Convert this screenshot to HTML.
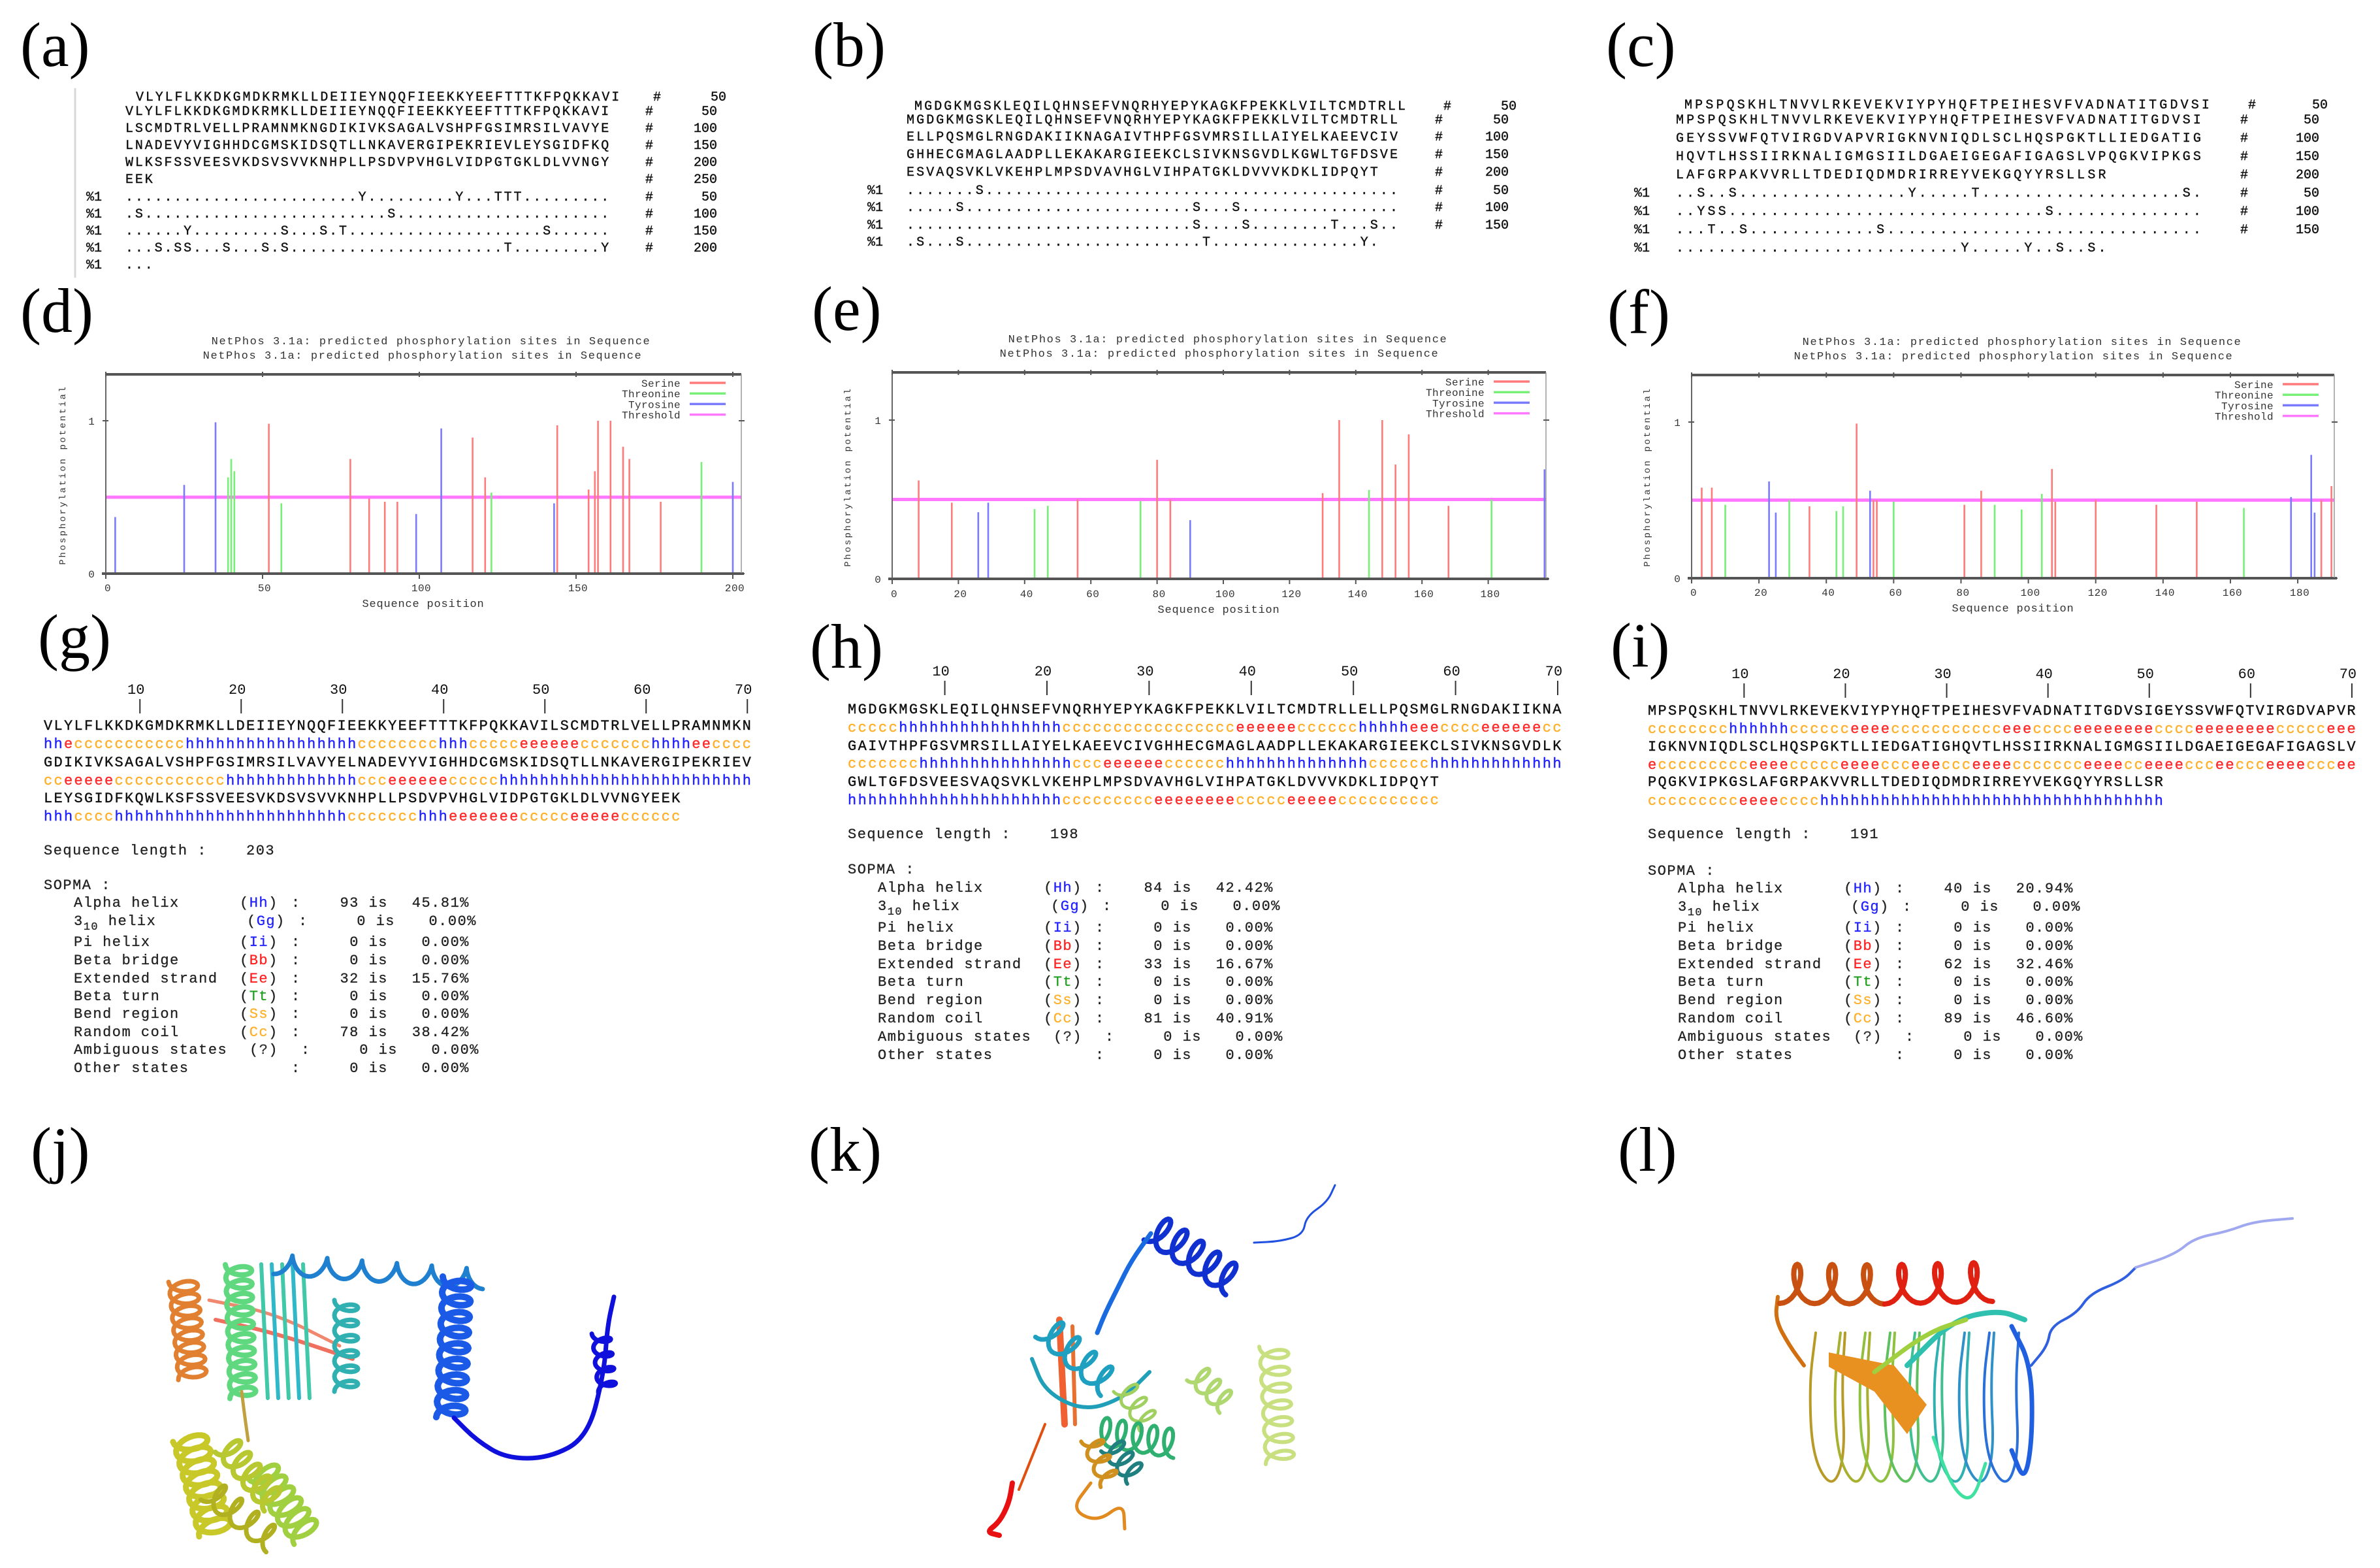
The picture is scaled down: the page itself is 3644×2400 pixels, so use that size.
<!DOCTYPE html>
<html><head><meta charset="utf-8"><title>Protein analysis figure</title>
<style>
html,body{margin:0;padding:0;background:#fff;}
svg{display:block;}
.lab{font-family:"Liberation Serif",serif;font-size:96px;fill:#000;}
.sa{font-family:"Liberation Mono",monospace;font-size:20px;fill:#111;stroke:#111;stroke-width:0.4;}
.sg{font-family:"Liberation Mono",monospace;font-size:22px;fill:#111;stroke-width:0.4;}
.cf{font-family:"Liberation Mono",monospace;font-size:16px;fill:#333;}
.ct{font-family:"Liberation Mono",monospace;font-size:17px;fill:#333;}
.sop{font-family:"Liberation Mono",monospace;font-size:22px;fill:#222;letter-spacing:1.5px;stroke:#222;stroke-width:0.3;}
</style></head>
<body>
<svg id="fig" xmlns="http://www.w3.org/2000/svg" width="3644" height="2400" viewBox="0 0 3644 2400">
<rect x="0" y="0" width="3644" height="2400" fill="#fff"/>
<text class="lab" x="31" y="101">(a)</text>
<text class="lab" x="1244" y="101">(b)</text>
<text class="lab" x="2459" y="101">(c)</text>
<text class="lab" x="31" y="508">(d)</text>
<text class="lab" x="1243" y="505">(e)</text>
<text class="lab" x="2461" y="510">(f)</text>
<text class="lab" x="58" y="1007">(g)</text>
<text class="lab" x="1240" y="1022">(h)</text>
<text class="lab" x="2466" y="1020">(i)</text>
<text class="lab" x="47" y="1792">(j)</text>
<text class="lab" x="1238" y="1792">(k)</text>
<text class="lab" x="2477" y="1792">(l)</text>
<line x1="115" y1="135" x2="115" y2="425" stroke="#d8d8d8" stroke-width="3"/>
<g id="gA"></g>
<g id="gB"></g>
<g id="gC"></g>
<g id="gD"></g>
<g id="gE"></g>
<g id="gF"></g>
<g id="gG"></g>
<g id="gH"></g>
<g id="gI"></g>
<g id="gJ"></g>
<g id="gK"></g>
<g id="gL"></g>
</svg>
<script>
// ---------- chart data (d) ----------
const dPos  = [3,25,35,39,40,41,52,56,78,84,89,93,99,107,117,121,123,143,144,154,156,157,161,165,167,177,190,200];
const dVal  = [0.37,0.58,0.99,0.63,0.75,0.67,0.98,0.46,0.75,0.49,0.47,0.47,0.39,0.95,0.89,0.63,0.53,0.46,0.97,0.55,0.67,1.0,1.0,0.83,0.75,0.47,0.73,0.60];
const dType = ['Y','Y','Y','T','T','T','S','T','S','S','S','S','Y','Y','S','S','T','Y','S','S','S','S','S','S','S','S','T','Y'];
const dTicks = [0,50,100,150,200];
// ---------- chart data (e) ----------
const ePos  = [8,18,26,29,43,47,56,75,80,84,90,130,135,144,148,152,156,168,181,197];
const eVal  = [0.62,0.48,0.42,0.48,0.44,0.46,0.50,0.49,0.75,0.50,0.37,0.54,1.0,0.56,1.0,0.72,0.91,0.46,0.50,0.69];
const eType = ['S','S','Y','Y','T','T','S','T','S','S','Y','S','S','T','S','S','S','S','T','Y'];
const eTicks = [0,20,40,60,80,100,120,140,160,180];
// ---------- chart data (f) ----------
const fPos  = [3,6,10,23,25,29,35,43,45,49,53,54,55,60,81,86,90,98,104,107,108,120,138,150,164,178,184,185,187,190];
const fVal  = [0.58,0.58,0.47,0.62,0.42,0.50,0.46,0.43,0.46,0.99,0.56,0.50,0.50,0.49,0.47,0.56,0.47,0.44,0.54,0.70,0.49,0.50,0.47,0.49,0.45,0.52,0.79,0.42,0.50,0.59];
const fType = ['S','S','T','Y','Y','T','S','T','T','S','Y','S','S','T','S','S','T','T','T','S','S','S','S','S','T','Y','Y','Y','S','S'];
const fTicks = [0,20,40,60,80,100,120,140,160,180];
// ---------- SOPMA data ----------
const sopNames = ['Alpha helix','helix','Pi helix','Beta bridge','Extended strand','Beta turn','Bend region','Random coil','Ambiguous states','Other states'];
const sopCodes = ['Hh','Gg','Ii','Bb','Ee','Tt','Ss','Cc','?',''];
const gCounts = [93,0,0,0,32,0,0,78,0,0];
const gPerc   = ['45.81%','0.00%','0.00%','0.00%','15.76%','0.00%','0.00%','38.42%','0.00%','0.00%'];
const hCounts = [84,0,0,0,33,0,0,81,0,0];
const hPerc   = ['42.42%','0.00%','0.00%','0.00%','16.67%','0.00%','0.00%','40.91%','0.00%','0.00%'];
const iCounts = [40,0,0,0,62,0,0,89,0,0];
const iPerc   = ['20.94%','0.00%','0.00%','0.00%','32.46%','0.00%','0.00%','46.60%','0.00%','0.00%'];

const NS='http://www.w3.org/2000/svg';
function mk(tag,parent,attrs){const e=document.createElementNS(NS,tag);for(const k in attrs)e.setAttribute(k,attrs[k]);parent.appendChild(e);return e;}
const R=(c,n)=>c.repeat(n);

const seqA=['VLYLFLKKDKGMDKRMKLLDEIIEYNQQFIEEKKYEEFTTTKFPQKKAVI','LSCMDTRLVELLPRAMNMKNGDIKIVKSAGALVSHPFGSIMRSILVAVYE','LNADEVYVIGHHDCGMSKIDSQTLLNKAVERGIPEKRIEVLEYSGIDFKQ','WLKSFSSVEESVKDSVSVVKNHPLLPSDVPVHGLVIDPGTGKLDLVVNGY','EEK'];
const seqB=['MGDGKMGSKLEQILQHNSEFVNQRHYEPYKAGKFPEKKLVILTCMDTRLL','ELLPQSMGLRNGDAKIIKNAGAIVTHPFGSVMRSILLAIYELKAEEVCIV','GHHECGMAGLAADPLLEKAKARGIEEKCLSIVKNSGVDLKGWLTGFDSVE','ESVAQSVKLVKEHPLMPSDVAVHGLVIHPATGKLDVVVKDKLIDPQYT'];
const seqC=['MPSPQSKHLTNVVLRKEVEKVIYPYHQFTPEIHESVFVADNATITGDVSI','GEYSSVWFQTVIRGDVAPVRIGKNVNIQDLSCLHQSPGKTLLIEDGATIG','HQVTLHSSIIRKNALIGMGSIILDGAEIGEGAFIGAGSLVPQGKVIPKGS','LAFGRPAKVVRLLTDEDIQDMDRIRREYVEKGQYYRSLLSR'];
const dotsA=['........................Y.........Y...TTT.........','.S.........................S......................','......Y.........S...S.T....................S......','...S.SS...S...S.S......................T.........Y','...'];
const dotsB=['.......S..........................................','.....S.......................S...S................','.............................S....S........T...S..','.S...S........................T...............Y.'];
const dotsC=['..S..S................Y.....T...................S.','..YSS..............................S..............','...T..S............S..............................','...........................Y.....Y..S..S.'];

function txt(parent,x,y,s,cls,ls,anchor){
  const t=mk('text',parent,{x:x,y:y,class:cls});
  if(ls!==null)t.setAttribute('style','letter-spacing:'+ls+'px');
  if(anchor)t.setAttribute('text-anchor',anchor);
  t.textContent=s;return t;
}
function seqPanel(gid,seqs,dots,cfg){
  const g=document.getElementById(gid);
  const ls=(cfg.cw-12).toFixed(2);
  let t=txt(g,cfg.x0f,cfg.y0,seqs[0],'sa',ls);
  
  
  t=txt(g,cfg.hashF,cfg.y0,'#','sa',null);
  
  
  t=txt(g,cfg.numF,cfg.y0,'50','sa',null,'end');
  
  
  seqs.forEach((s,i)=>{
    const y=cfg.ys[i];
    let a=txt(g,cfg.x0,y,s,'sa',ls);
    
    
    a=txt(g,cfg.hash,y,'#','sa',null);
    
    
    a=txt(g,cfg.num,y,String(i<4?(i+1)*50:250),'sa',null,'end');
    
    
  });
  dots.forEach((s,i)=>{
    const y=cfg.dy[i];
    let a=txt(g,cfg.pct,y,'%1','sa',null);
    
    
    a=txt(g,cfg.x0,y,s,'sa',ls);
    
    
    if(i<3 || (cfg.fourth && i===3)){
      a=txt(g,cfg.hash,y,'#','sa',null);
      
      
      a=txt(g,cfg.num,y,String((i+1)*50),'sa',null,'end');
      
      
    }
  });
}
seqPanel('gA',seqA,dotsA,{x0f:208,y0:154,hashF:1000,numF:1112,x0:192,cw:14.86,ys:[176,202,228,254,280],hash:988,num:1098,pct:132,dy:[307,333,359,385,411],fourth:true});
seqPanel('gB',seqB,dotsB,{x0f:1400,y0:168,hashF:2210,numF:2322,x0:1388,cw:15.1,ys:[189,215,242,269],hash:2197,num:2310,pct:1328,dy:[297,323,350,376],fourth:false});
seqPanel('gC',seqC,dotsC,{x0f:2579,y0:166,hashF:3442,numF:3564,x0:2566,cw:16.16,ys:[189,217,245,273],hash:3430,num:3551,pct:2502,dy:[301,329,357,385],fourth:false});

const colMap={S:'#ff7a7a',T:'#78f078',Y:'#7a7aff'};
function drawChart(gid,pos,val,typ,ticks,c){
  const g=document.getElementById(gid);
  const xs=v=>c.x0+v*c.ppx;
  const ys=v=>c.y0-v*c.ppy;
  let e;
  e=txt(g,c.tcx,c.ty1,'NetPhos 3.1a: predicted phosphorylation sites in Sequence','ct','1.6','middle');
  
  
  e=txt(g,c.tcx-13,c.ty1+22,'NetPhos 3.1a: predicted phosphorylation sites in Sequence','ct','1.6','middle');
  
  
  e=mk('line',g,{x1:c.x0,x2:c.right,y1:ys(0.5),y2:ys(0.5),stroke:'#ff78ff','stroke-width':5});
  
  
  pos.forEach((p,i)=>{
    const b=mk('line',g,{x1:xs(p),x2:xs(p),y1:ys(0),y2:ys(val[i]),stroke:colMap[typ[i]],'stroke-width':2.6});
    
    
  });
  e=mk('line',g,{x1:c.x0,x2:c.right,y1:c.top,y2:c.top,stroke:'#555','stroke-width':4});
  
  
  e=mk('line',g,{x1:c.x0-6,x2:c.right+4,y1:ys(0),y2:ys(0),stroke:'#555','stroke-width':4});
  
  
  e=mk('line',g,{x1:c.x0,x2:c.x0,y1:c.top,y2:ys(0),stroke:'#666','stroke-width':2});
  
  
  e=mk('line',g,{x1:c.right,x2:c.right,y1:c.top,y2:ys(0),stroke:'#999','stroke-width':1.5});
  
  
  ticks.forEach(t=>{
    let k=mk('line',g,{x1:xs(t),x2:xs(t),y1:c.top-4,y2:c.top+4,stroke:'#555','stroke-width':2});
    
    
    k=mk('line',g,{x1:xs(t),x2:xs(t),y1:ys(0),y2:ys(0)+8,stroke:'#555','stroke-width':2});
    
    
    k=txt(g,xs(t)+3,c.xl,String(t),'cf','0.5','middle');
    
    
  });
  [0,1].forEach(v=>{
    let k=txt(g,c.x0-22,ys(v)+6,String(v),'cf',null,'middle');
    
    
    k=mk('line',g,{x1:c.x0-5,x2:c.x0+4,y1:ys(v),y2:ys(v),stroke:'#555','stroke-width':2});
    
    
    k=mk('line',g,{x1:c.right-4,x2:c.right+5,y1:ys(v),y2:ys(v),stroke:'#555','stroke-width':2});
    
    
  });
  e=txt(g,c.xlabX,c.xl+24,'Sequence position','ct','0.8','middle');
  
  
  e=txt(g,0,0,'Phosphorylation potential','cf','2.6','middle');
  e.setAttribute('transform','translate('+c.ylx+','+c.yly+') rotate(-90)');
  e.setAttribute('style','font-size:14px;letter-spacing:2.6px');
  
  
  const legN=['Serine','Threonine','Tyrosine','Threshold'];
  const legC=['#ff7a7a','#78f078','#7a7aff','#ff78ff'];
  legN.forEach((n,i)=>{
    const y=c.ly+i*16.2;
    let k=txt(g,c.lr,y+6,n,'cf','0.4','end');
    
    
    k=mk('line',g,{x1:c.lr+14,x2:c.lr+69,y1:y,y2:y,stroke:legC[i],'stroke-width':3.5});
    
    
  });
}
drawChart('gD',dPos,dVal,dType,dTicks,{x0:162,ppx:4.8,right:1135,top:573,y0:878,ppy:234,tcx:660,ty1:527,xl:905,xlabX:648,ylx:100,yly:727,lr:1042,ly:586});
drawChart('gE',ePos,eVal,eType,eTicks,{x0:1366,ppx:5.07,right:2367,top:570,y0:886,ppy:243,tcx:1880,ty1:524,xl:914,xlabX:1866,ylx:1302,yly:730,lr:2273,ly:584});
drawChart('gF',fPos,fVal,fType,fTicks,{x0:2590,ppx:5.156,right:3574,top:574,y0:885,ppy:239,tcx:3096,ty1:528,xl:912,xlabX:3082,ylx:2526,yly:730,lr:3481,ly:588});

const ssCol={h:'#2222ff',e:'#ff2a2a',c:'#ffb02a'};
const ssG=[R('h',2)+'e'+R('c',11)+R('h',17)+R('c',8)+R('h',3)+R('c',5)+R('e',6)+R('c',7)+R('h',4)+R('e',2)+R('c',4),
  'cc'+R('e',5)+R('c',11)+R('h',13)+'ccc'+R('e',6)+R('c',5)+R('h',25),
  'hhh'+R('c',4)+R('h',23)+R('c',7)+'hhh'+R('e',7)+R('c',5)+R('e',5)+R('c',6)];
const ssH=[R('c',5)+R('h',16)+R('c',17)+R('e',6)+R('c',6)+R('h',5)+R('e',3)+R('c',4)+R('e',6)+'cc',
  R('c',7)+R('h',15)+'ccc'+R('e',6)+R('c',6)+R('h',14)+R('c',6)+R('h',13),
  R('h',21)+R('c',9)+R('e',8)+R('c',5)+R('e',5)+R('c',10)];
const ssI=[R('c',8)+R('h',6)+R('c',6)+R('e',4)+R('c',11)+R('e',3)+R('c',4)+R('e',8)+R('c',4)+R('e',8)+R('c',5)+R('e',3),
  'e'+R('c',9)+R('e',4)+R('c',5)+R('e',4)+R('c',3)+R('e',3)+R('c',3)+R('e',4)+R('c',7)+R('e',4)+'cc'+R('e',4)+R('c',3)+'ee'+R('c',3)+R('e',4)+R('c',3)+'ee',
  R('c',9)+R('e',4)+R('c',4)+R('h',34)];
const fullG=seqA.join(''), fullH=seqB.join(''), fullI=seqC.join('');
const codeCol=['#2222ff','#2222ff','#2222ff','#ff2222','#ff2222','#22a022','#ffb02a','#ffb02a','#333','#333'];

function sopPanel(gid,full,ss,counts,perc,c){
  const g=document.getElementById(gid);
  const S=c.S, ls=(c.cw-13.2).toFixed(2);
  for(let k=1;k<=7;k++){
    const x=S+(k*10-0.5)*c.cw;
    let e=txt(g,x-6,c.tickY+8,String(k*10),'sg',null,'middle');
    
    
    e=mk('line',g,{x1:x,x2:x,y1:c.tickY+16,y2:c.tickY+38,stroke:'#333','stroke-width':2});
    
    
  }
  for(let i=0;i<3;i++){
    const s=full.slice(i*70,i*70+70);
    let e=txt(g,S,c.rows[i*2]+8,s,'sg',ls);
    e.setAttribute('stroke','#111');
    
    
    const t=mk('text',g,{x:S,y:c.rows[i*2+1]+8,class:'sg',style:'letter-spacing:'+ls+'px'});
    
    
    const str=ss[i];let j=0;
    while(j<str.length){let k=j;while(k<str.length&&str[k]===str[j])k++;
      const sp=mk('tspan',t,{fill:ssCol[str[j]],stroke:ssCol[str[j]]});
      
      
      sp.textContent=str.slice(j,k);j=k;}
  }
  let e=txt(g,S,c.lenY+8,'Sequence length :','sop',null);
  
  
  e=txt(g,S+310,c.lenY+8,String(full.length),'sop',null);
  
  
  e=txt(g,S,c.sopY+8,'SOPMA :','sop',null);
  
  
  sopNames.forEach((n,i)=>{
    const y=c.sr[i]+8, off=(i===1?11:(i===8?15:0));
    let a;
    if(i===1){
      a=mk('text',g,{x:S+46,y:y,class:'sop'});
      
      
      a.textContent='3';
      const sub=mk('tspan',a,{dy:7,style:'font-size:17px'});
      
      
      sub.textContent='10';
      const rest=mk('tspan',a,{dy:-7});
      
      
      rest.textContent='  helix';
    } else {
      a=txt(g,S+46,y,n,'sop',null);
      
      
    }
    if(sopCodes[i]!==''){
      a=mk('text',g,{x:S+300+off,y:y,class:'sop'});
      
      
      const p1=mk('tspan',a,{});p1.textContent='(';
      
      
      const p2=mk('tspan',a,{fill:codeCol[i],stroke:codeCol[i]});p2.textContent=sopCodes[i];
      
      
      const p3=mk('tspan',a,{});p3.textContent=')';
      
      
    }
    a=txt(g,S+379+off,y,':','sop',null);
    
    
    a=txt(g,S+527+off,y,counts[i]+' is','sop',null,'end');
    
    
    a=txt(g,S+652+off,y,perc[i],'sop',null,'end');
    
    
  });
}
sopPanel('gG',fullG,ssG,gCounts,gPerc,{S:67,cw:15.5,tickY:1054,rows:[1109,1137,1165,1193,1220,1248],lenY:1300,sopY:1353,sr:[1380,1408,1440,1468,1496,1523,1550,1578,1605,1633]});
sopPanel('gH',fullH,ssH,hCounts,hPerc,{S:1298,cw:15.64,tickY:1026,rows:[1084,1112,1140,1167,1195,1223],lenY:1275,sopY:1329,sr:[1357,1385,1418,1446,1474,1501,1529,1557,1585,1613]});
sopPanel('gI',fullI,ssI,iCounts,iPerc,{S:2523,cw:15.51,tickY:1030,rows:[1086,1114,1141,1169,1195,1224],lenY:1275,sopY:1331,sr:[1358,1386,1418,1446,1474,1501,1529,1557,1585,1613]});

function helix(g,x1,y1,x2,y2,n,r,col,w){
  const dx=x2-x1,dy=y2-y1,L=Math.hypot(dx,dy),ux=dx/L,uy=dy/L,px=-uy,py=ux;
  let d='';const N=n*24;
  for(let i=0;i<=N;i++){const t=i/N,th=t*n*2*Math.PI;
    const bx=x1+dx*t+ux*r*0.55*Math.sin(th),by=y1+dy*t+uy*r*0.55*Math.sin(th);
    const X=bx+px*r*Math.cos(th),Y=by+py*r*Math.cos(th);
    d+=(i?'L':'M')+X.toFixed(1)+' '+Y.toFixed(1);}
  const p=mk('path',g,{d:d,fill:'none',stroke:col,'stroke-width':w,'stroke-linejoin':'round','stroke-linecap':'round'});
  
  
}
function strand(g,pts,col,w){
  let d='M'+pts[0][0]+' '+pts[0][1];
  for(let i=1;i<pts.length;i++){const a=pts[i-1],b=pts[i];d+=' Q'+a[0]+' '+a[1]+' '+((a[0]+b[0])/2)+' '+((a[1]+b[1])/2);}
  d+=' L'+pts[pts.length-1][0]+' '+pts[pts.length-1][1];
  const p=mk('path',g,{d:d,fill:'none',stroke:col,'stroke-width':w,'stroke-linejoin':'round','stroke-linecap':'round'});
  
  
}
const J=document.getElementById('gJ');
strand(J,[[330,2020],[420,2040],[540,2080]],'#f07060',6);
strand(J,[[320,1990],[420,2010],[520,2060]],'#f08870',5);
for(let i=0;i<5;i++){strand(J,[[400+i*16,1935],[405+i*16,2040],[410+i*16,2140]],i%2?'#30b8c8':'#40c8a8',6);}
helix(J,280,1960,295,2110,8,22,'#e08030',7);
helix(J,365,1935,372,2140,10,20,'#60d880',8);
helix(J,530,1990,530,2130,6,18,'#30b0b0',7);
helix(J,420,1935,740,1958,6,15,'#2080d0',7);
helix(J,700,1955,690,2170,9,22,'#1a5ae6',10);
strand(J,[[695,2170],[730,2205],[775,2232],[840,2232],[900,2200],[925,2100],[930,2030],[940,1985]],'#1010dd',7);
helix(J,920,2040,930,2130,4,14,'#1010dd',7);
strand(J,[[370,2130],[375,2170],[380,2205]],'#c0a040',5);
helix(J,290,2200,330,2345,8,26,'#c8c828',9);
helix(J,400,2250,470,2350,6,24,'#a0d040',8);
helix(J,345,2210,420,2300,5,20,'#b8c830',8);
helix(J,320,2280,420,2360,4,20,'#b0b020',7);

const K=document.getElementById('gK');
strand(K,[[2044,1814],[2032,1840],[2000,1862],[1995,1890],[1960,1900],[1920,1902]],'#2050e0',3);
helix(K,1765,1878,1890,1962,5,24,'#1030d0',8);
strand(K,[[1762,1888],[1732,1930],[1712,1970],[1692,2010],[1680,2040]],'#1a6ae0',7);
strand(K,[[1622,2020],[1626,2100],[1630,2180]],'#f06030',10);
strand(K,[[1642,2030],[1644,2100],[1646,2180]],'#e87030',6);
helix(K,1600,2030,1700,2120,4,22,'#20a0c0',7);
strand(K,[[1580,2080],[1600,2130],[1660,2160],[1720,2140],[1760,2100]],'#20a0b8',6);
helix(K,1950,2060,1960,2240,7,22,'#c8e080',6);
helix(K,1830,2100,1880,2150,3,18,'#b0d870',6);
helix(K,1720,2120,1760,2180,3,18,'#a0d060',5);
helix(K,1680,2190,1800,2210,5,22,'#30b070',6);
helix(K,1700,2210,1740,2260,3,18,'#208080',6);
helix(K,1670,2200,1700,2270,3,16,'#d09020',6);
strand(K,[[1670,2270],[1640,2310],[1680,2330],[1720,2300],[1722,2340]],'#e08a20',5);
strand(K,[[1600,2180],[1580,2230],[1560,2280]],'#e05010',4);
strand(K,[[1550,2270],[1545,2300],[1530,2330],[1510,2345],[1530,2350]],'#e81010',8);

const L=document.getElementById('gL');
const barrelCols=['#b89a28','#a8b030','#90c040','#60c060','#40c090','#30b0b0','#3090c8','#2a70d8'];
barrelCols.forEach((col,i)=>{
  const x=2770+i*38;
  strand(L,[[x+10,2040],[x,2120],[x+5,2230],[x+35,2280],[x+55,2230],[x+50,2120],[x+55,2040]],col,4);
});
const sheet=mk('path',L,{d:'M2800 2070 L2900 2090 L2950 2150 L2920 2195 L2870 2130 L2800 2092 Z',fill:'#e89020'});


strand(L,[[2960,2200],[2990,2280],[3020,2300],[3040,2240]],'#40e0a0',5);
strand(L,[[3080,2030],[3110,2090],[3112,2200],[3100,2270],[3080,2220]],'#2060e0',7);
strand(L,[[2920,2090],[2990,2020],[3060,2005],[3100,2020]],'#30c0b0',8);
strand(L,[[2870,2100],[2950,2040],[3010,2020]],'#a0d040',7);
strand(L,[[2722,1985],[2718,2020],[2740,2060],[2762,2090]],'#d07010',6);
helix(L,2725,1965,2885,1966,3,30,'#c85010',8);
helix(L,2885,1966,3050,1962,3,30,'#e02010',8);
strand(L,[[3110,2090],[3135,2060],[3140,2030],[3180,2010],[3200,1980],[3250,1960],[3270,1940]],'#3060e0',4);
strand(L,[[3270,1940],[3330,1920],[3360,1895],[3410,1885],[3450,1870],[3510,1865]],'#a0a8f0',4);
</script>
</body></html>
